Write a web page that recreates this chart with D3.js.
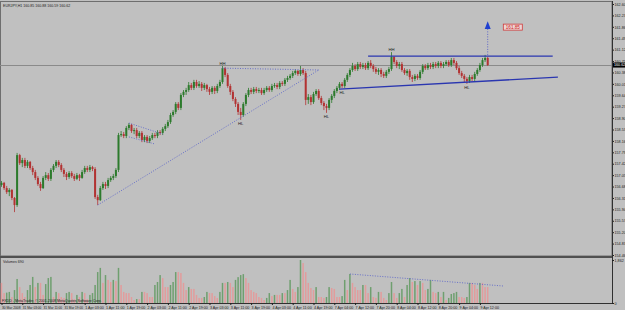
<!DOCTYPE html>
<html>
<head>
<meta charset="utf-8">
<script src="https://cdn.jsdelivr.net/npm/d3@7"></script>
<style>
  body { margin: 0; background: #c0c0c0; }
  text { font-family: "Liberation Sans", Arial, sans-serif; }
</style>
</head>
<body>
<script>
// EURJPY H1, 30 Mar - 9 Apr 2008
var opens = [
156.73,156.80,156.63,156.50,156.57,156.31,156.08,157.70,157.44,157.54,
157.35,157.48,157.28,157.15,156.96,156.76,156.63,156.96,157.05,156.93,
157.22,157.35,157.48,157.38,157.22,157.09,156.99,157.12,157.02,156.93,
157.05,156.96,157.15,157.28,157.22,157.31,157.25,156.34,156.24,156.63,
156.76,156.70,156.89,156.96,157.02,157.22,158.35,158.38,158.32,158.58,
158.68,158.48,158.51,158.32,158.42,158.19,158.29,158.16,158.25,158.35,
158.32,158.45,158.42,158.55,158.64,158.77,159.00,159.10,159.36,159.23,
159.65,159.75,159.81,159.97,159.88,160.07,159.94,160.01,159.88,159.97,
159.84,159.75,159.88,159.78,159.94,160.07,160.52,160.30,159.94,159.75,
159.52,159.36,159.10,159.00,159.36,159.65,159.81,159.75,159.84,159.78,
159.81,159.71,159.81,159.88,159.81,159.94,159.97,159.91,160.04,160.01,
160.14,160.20,160.27,160.36,160.43,160.33,160.46,160.36,159.49,159.58,
159.42,159.68,159.78,159.55,159.39,159.29,159.23,159.49,159.62,159.78,
159.88,160.01,159.94,160.14,160.30,160.46,160.59,160.49,160.65,160.56,
160.62,160.52,160.69,160.59,160.49,160.40,160.46,160.33,160.27,160.40,
160.49,160.88,160.72,160.59,160.65,160.46,160.36,160.43,160.23,160.17,
160.27,160.20,160.40,160.59,160.52,160.62,160.56,160.65,160.59,160.69,
160.59,160.65,160.72,160.62,160.78,160.69,160.52,160.36,160.27,160.17,
160.10,160.23,160.17,160.33,160.46,160.62,160.78,160.85];

var highs = [
156.86,156.83,156.70,156.63,156.60,156.34,157.77,157.74,157.61,157.61,
157.54,157.51,157.35,157.22,157.02,156.83,157.02,157.15,157.12,157.28,
157.41,157.54,157.54,157.44,157.28,157.15,157.18,157.18,157.09,157.12,
157.09,157.22,157.35,157.35,157.38,157.35,157.31,156.41,156.70,156.83,
156.83,156.96,157.02,157.09,157.28,158.42,158.48,158.45,158.64,158.74,
158.71,158.58,158.58,158.48,158.48,158.35,158.35,158.32,158.42,158.42,
158.51,158.51,158.61,158.71,158.84,159.07,159.16,159.42,159.42,159.71,
159.81,159.88,160.07,160.04,160.14,160.14,160.10,160.07,160.04,160.01,
159.91,159.94,159.94,160.01,160.14,160.59,160.56,160.36,160.01,159.81,
159.58,159.42,159.23,159.42,159.71,159.88,159.88,159.91,159.91,159.88,
159.88,159.88,159.94,159.94,160.01,160.04,160.04,160.10,160.10,160.20,
160.27,160.33,160.43,160.49,160.46,160.59,160.52,160.43,159.68,159.65,
159.75,159.84,159.84,159.62,159.45,159.36,159.55,159.68,159.84,159.94,
160.07,160.07,160.20,160.36,160.52,160.69,160.65,160.72,160.72,160.69,
160.69,160.75,160.78,160.65,160.56,160.52,160.52,160.40,160.46,160.56,
161.04,160.91,160.78,160.72,160.72,160.52,160.49,160.49,160.30,160.33,
160.33,160.46,160.65,160.65,160.69,160.69,160.72,160.72,160.75,160.75,
160.72,160.78,160.78,160.85,160.85,160.75,160.59,160.43,160.33,160.23,
160.30,160.30,160.40,160.52,160.69,160.85,160.95,160.88];

var lows = [
156.67,156.57,156.44,156.37,156.24,155.85,156.02,157.38,157.31,157.28,
157.28,157.22,157.05,156.89,156.70,156.54,156.60,156.89,156.86,156.86,
157.15,157.28,157.31,157.15,156.99,156.89,156.93,156.96,156.86,156.89,
156.86,156.93,157.09,157.15,157.15,157.18,156.28,156.08,156.21,156.57,
156.60,156.63,156.83,156.89,156.96,157.15,158.29,158.25,158.25,158.51,
158.42,158.38,158.25,158.25,158.12,158.12,158.09,158.09,158.19,158.25,
158.25,158.35,158.35,158.48,158.58,158.71,158.94,159.03,159.16,159.16,
159.58,159.65,159.75,159.81,159.81,159.88,159.88,159.78,159.81,159.75,
159.65,159.68,159.68,159.71,159.88,160.01,160.23,159.88,159.65,159.45,
159.26,159.00,158.84,158.94,159.29,159.58,159.68,159.68,159.71,159.71,
159.65,159.65,159.75,159.75,159.75,159.88,159.84,159.84,159.94,159.94,
160.07,160.14,160.20,160.30,160.27,160.27,160.30,159.32,159.36,159.32,
159.36,159.62,159.49,159.32,159.16,159.07,159.16,159.39,159.55,159.71,
159.81,159.88,159.88,160.07,160.23,160.40,160.43,160.43,160.49,160.49,
160.46,160.46,160.52,160.40,160.33,160.30,160.23,160.20,160.20,160.33,
160.43,160.65,160.52,160.49,160.40,160.30,160.27,160.14,160.07,160.10,
160.14,160.14,160.33,160.46,160.46,160.49,160.49,160.52,160.52,160.52,
160.52,160.59,160.56,160.56,160.62,160.46,160.30,160.20,160.07,160.01,
160.04,160.10,160.10,160.27,160.40,160.56,160.72,160.59];

var closes = [
156.80,156.63,156.50,156.57,156.31,156.08,157.70,157.44,157.54,157.35,
157.48,157.28,157.15,156.96,156.76,156.63,156.96,157.05,156.93,157.22,
157.35,157.48,157.38,157.22,157.09,156.99,157.12,157.02,156.93,157.05,
156.96,157.15,157.28,157.22,157.31,157.25,156.34,156.24,156.63,156.76,
156.70,156.89,156.96,157.02,157.22,158.35,158.38,158.32,158.58,158.68,
158.48,158.51,158.32,158.42,158.19,158.29,158.16,158.25,158.35,158.32,
158.45,158.42,158.55,158.64,158.77,159.00,159.10,159.36,159.23,159.65,
159.75,159.81,159.97,159.88,160.07,159.94,160.01,159.88,159.97,159.84,
159.75,159.88,159.78,159.94,160.07,160.52,160.30,159.94,159.75,159.52,
159.36,159.10,159.00,159.36,159.65,159.81,159.75,159.84,159.78,159.81,
159.71,159.81,159.88,159.81,159.94,159.97,159.91,160.04,160.01,160.14,
160.20,160.27,160.36,160.43,160.33,160.46,160.36,159.49,159.58,159.42,
159.68,159.78,159.55,159.39,159.29,159.23,159.49,159.62,159.78,159.88,
160.01,159.94,160.14,160.30,160.46,160.59,160.49,160.65,160.56,160.62,
160.52,160.69,160.59,160.49,160.40,160.46,160.33,160.27,160.40,160.49,
160.88,160.72,160.59,160.65,160.46,160.36,160.43,160.23,160.17,160.27,
160.20,160.40,160.59,160.52,160.62,160.56,160.65,160.59,160.69,160.59,
160.65,160.72,160.62,160.78,160.69,160.52,160.36,160.27,160.17,160.10,
160.23,160.17,160.33,160.46,160.62,160.78,160.85,160.62];

var volumes = [
870,430,450,480,260,560,1040,690,430,260,
560,780,1130,690,870,870,350,820,1080,1130,
260,480,430,260,220,430,480,430,170,350,
260,480,430,170,350,430,780,1340,1520,870,
1210,1000,910,1000,950,1520,780,480,430,430,
260,130,170,170,480,480,430,260,260,780,
910,1210,1080,690,690,780,910,1340,1340,1300,
870,560,690,610,610,350,220,220,260,480,
430,430,300,220,480,870,870,910,870,690,
1000,1120,1210,1250,1080,870,560,480,430,260,
220,130,220,430,300,350,350,350,430,430,
560,1000,610,480,690,1862,1730,1340,870,650,
560,690,260,260,220,260,690,650,610,260,
260,300,1000,560,1256,870,690,560,560,780,
780,430,690,260,220,480,480,220,130,430,
910,430,220,430,610,260,780,1080,910,950,
780,950,870,560,610,1000,480,430,480,260,
480,130,220,390,430,480,260,260,220,260,
870,870,780,610,870,870,690,690];

var priceTicks = [162.60,162.23,161.86,161.49,161.12,160.75,160.38,160.01,159.64,159.27,
  158.90,158.53,158.16,157.79,157.42,157.05,156.68,156.31,155.94,155.57,155.20,154.83,154.46];
var volTicks = [0, 1862];

var dateTickBars = [0,8,16,24,32,40,48,56,64,72,80,88,96,104,112,120,128,136,144,152,160,168,176,184];
var dateLabels = ["30 Mar 2008","31 Mar 03:00","31 Mar 11:00","31 Mar 19:00","1 Apr 03:00","1 Apr 11:00",
  "1 Apr 19:00","2 Apr 03:00","2 Apr 11:00","2 Apr 19:00","3 Apr 03:00","3 Apr 11:00","3 Apr 19:00",
  "4 Apr 03:00","4 Apr 11:00","4 Apr 19:00","7 Apr 04:00","7 Apr 12:00","7 Apr 20:00","8 Apr 04:00",
  "8 Apr 12:00","8 Apr 20:00","9 Apr 04:00","9 Apr 12:00"];

// drawn objects: [bar0, price0, bar1, price1]
var solidLines = [[141, 160.91, 212, 160.91], [130, 159.84, 214, 160.23]];
var dottedLines = [[37, 156.08, 122, 160.46], [85, 160.52, 122, 160.46],
                   [49, 158.74, 62, 158.38], [49, 158.29, 59, 158.06]];
var volumeLine = [134, 1256, 193, 736];
var patternBars = [85, 92, 125, 131, 150, 179];
var patternNames = ["HH", "HL", "HL", "HL", "HH", "HL"];
var patternPrices = [160.59, 158.84, 159.07, 159.84, 161.04, 160.01];
var targetBar = 187, targetFrom = 160.95, targetTo = 161.79, targetTip = 162.04;
var targetLabel = "161.85", targetLabelBar = 193;

var W = 625, H = 310;
var plotRight = 612;
var priceTop = 2, priceBottom = 256, volTop = 258, volBottom = 303;
var axisFont = 3.7;

var svg = d3.select("body").append("svg")
            .attr("width", W)
            .attr("height", H)
            .style("display", "block");

svg.append("rect").attr("width", W).attr("height", H).attr("fill", "#c0c0c0");

var x = d3.scaleLinear().domain([0, 187]).range([1.5, 487.7]);
var y = d3.scaleLinear().domain([154.46, 162.60]).range([255, 4]);
var yv = d3.scaleLinear().domain([0, 1862]).range([volBottom, 260]);

var upCol = "#2c7a2c", downCol = "#b23232";
var lineBlue = "#2a36b0", dotBlue = "#5e66c8";

// frames
svg.append("rect").attr("x", 0.5).attr("y", priceTop - 0.5)
   .attr("width", plotRight - 0.5).attr("height", priceBottom - priceTop + 0.5)
   .attr("fill", "none").attr("stroke", "#6e6e6e");
svg.append("line").attr("x1", 0).attr("x2", plotRight).attr("y1", 257).attr("y2", 257)
   .attr("stroke", "#505050").attr("stroke-width", 2);
svg.append("line").attr("x1", 0.5).attr("x2", 0.5).attr("y1", volTop).attr("y2", volBottom)
   .attr("stroke", "#6e6e6e");

// bid line
var bidY = Math.round(y(closes[closes.length - 1])) + 0.5;
svg.append("line").attr("x1", 0).attr("x2", plotRight).attr("y1", bidY).attr("y2", bidY)
   .attr("stroke", "#8a8a8a");

// header
svg.append("text").attr("x", 3).attr("y", 7).attr("font-size", 3.6).attr("fill", "#202020")
   .text("EURJPY,H1  " + opens[187].toFixed(2) + " " + highs[187].toFixed(2) + " " +
         lows[187].toFixed(2) + " " + closes[187].toFixed(2));

// candles
var bars = d3.range(closes.length);
var candle = svg.append("g");
candle.selectAll("line").data(bars).enter().append("line")
      .attr("x1", function(i) { return x(i); })
      .attr("x2", function(i) { return x(i); })
      .attr("y1", function(i) { return y(highs[i]); })
      .attr("y2", function(i) { return y(lows[i]); })
      .attr("stroke", function(i) { return closes[i] >= opens[i] ? upCol : downCol; })
      .attr("stroke-width", 0.8);
candle.selectAll("rect").data(bars).enter().append("rect")
      .attr("x", function(i) { return x(i) - 1; })
      .attr("width", 2)
      .attr("y", function(i) { return y(Math.max(opens[i], closes[i])); })
      .attr("height", function(i) { return Math.max(1, Math.abs(y(opens[i]) - y(closes[i]))); })
      .attr("fill", function(i) { return closes[i] >= opens[i] ? upCol : downCol; });

// trend lines
svg.selectAll(".solid").data(solidLines).enter().append("line")
   .attr("x1", function(d) { return x(d[0]); }).attr("y1", function(d) { return y(d[1]); })
   .attr("x2", function(d) { return x(d[2]); }).attr("y2", function(d) { return y(d[3]); })
   .attr("stroke", lineBlue).attr("stroke-width", 1.4);
svg.selectAll(".dotted").data(dottedLines).enter().append("line")
   .attr("x1", function(d) { return x(d[0]); }).attr("y1", function(d) { return y(d[1]); })
   .attr("x2", function(d) { return x(d[2]); }).attr("y2", function(d) { return y(d[3]); })
   .attr("stroke", dotBlue).attr("stroke-width", 0.9).attr("stroke-dasharray", "1,1.5");

// pattern labels
svg.selectAll(".pat").data(patternBars).enter().append("text")
   .attr("x", function(b) { return x(b); })
   .attr("y", function(b, i) { return patternNames[i] == "HH" ? y(patternPrices[i]) - 1 : y(patternPrices[i]) + 5; })
   .attr("text-anchor", "middle").attr("font-size", 4.2).attr("fill", "#202020")
   .text(function(b, i) { return patternNames[i]; });

// target arrow
var tx = x(targetBar);
svg.append("line").attr("x1", tx).attr("x2", tx).attr("y1", y(targetFrom)).attr("y2", y(targetTo))
   .attr("stroke", dotBlue).attr("stroke-dasharray", "1,1.5");
svg.append("path")
   .attr("d", "M" + tx + "," + y(targetTip) + "L" + (tx + 3) + "," + y(targetTo) + "L" + (tx - 3) + "," + y(targetTo) + "Z")
   .attr("fill", "#2040d0");
var tl = svg.append("g").attr("transform", "translate(" + x(targetLabelBar) + "," + y(parseFloat(targetLabel)) + ")");
tl.append("rect").attr("x", 0).attr("y", -3).attr("width", 19).attr("height", 6)
  .attr("fill", "#ecd4d4").attr("stroke", "#d03a3a").attr("stroke-width", 0.8);
tl.append("text").attr("x", 9.5).attr("y", 1.6).attr("text-anchor", "middle")
  .attr("font-size", 4.6).attr("fill", "#d02020").text(targetLabel);

// price axis
var yAxis = d3.axisRight(y).tickValues(priceTicks).tickFormat(d3.format(".2f")).tickSize(2);
var ga = svg.append("g").attr("transform", "translate(" + plotRight + ",0)").call(yAxis);
ga.select(".domain").remove();
ga.selectAll("text").attr("font-size", axisFont).attr("fill", "#202020").attr("x", 2.5);
ga.selectAll("line").attr("stroke", "#202020");
svg.append("line").attr("x1", plotRight + 0.5).attr("x2", plotRight + 0.5).attr("y1", priceTop - 1).attr("y2", volBottom)
   .attr("stroke", "#303030");

// current price box
var cp = y(closes[187]);
svg.append("rect").attr("x", plotRight + 1).attr("y", cp - 2.5).attr("width", 12).attr("height", 5).attr("fill", "#000");
svg.append("text").attr("x", plotRight + 2).attr("y", cp + 1.3).attr("font-size", axisFont).attr("fill", "#fff")
   .text(closes[187].toFixed(2));

// volumes
svg.append("text").attr("x", 3).attr("y", 263).attr("font-size", 3.6).attr("fill", "#202020")
   .text("Volumes " + volumes[volumes.length - 1]);
svg.append("g").selectAll("rect").data(bars).enter().append("rect")
   .attr("x", function(i) { return x(i) - 0.75; })
   .attr("width", 1.5)
   .attr("y", function(i) { return yv(volumes[i]); })
   .attr("height", function(i) { return yv(0) - yv(volumes[i]); })
   .attr("fill", function(i) { return i > 0 && volumes[i] > volumes[i - 1] ? "#6f9f6f" : "#e29c9c"; });
svg.append("line")
   .attr("x1", x(volumeLine[0])).attr("y1", yv(volumeLine[1]))
   .attr("x2", x(volumeLine[2])).attr("y2", yv(volumeLine[3]))
   .attr("stroke", dotBlue).attr("stroke-width", 0.9).attr("stroke-dasharray", "1,1.5");

var vAxis = d3.axisRight(yv).tickValues(volTicks).tickSize(2);
var gv = svg.append("g").attr("transform", "translate(" + plotRight + ",0)").call(vAxis);
gv.select(".domain").remove();
gv.selectAll("text").attr("font-size", axisFont).attr("fill", "#202020").attr("x", 2.5);
gv.selectAll("line").attr("stroke", "#202020");

svg.append("text").attr("x", 2).attr("y", 301.5).attr("font-size", 3.6).attr("fill", "#202020")
   .text("FXDD - MetaTrader, \u00a9 2001-2008 MetaQuotes Software Corp.");

// time axis
svg.append("line").attr("x1", 0).attr("x2", plotRight).attr("y1", volBottom + 0.5).attr("y2", volBottom + 0.5)
   .attr("stroke", "#303030");
var xAxis = d3.axisBottom(x).tickValues(dateTickBars)
              .tickFormat(function(d, i) { return dateLabels[i]; }).tickSize(2);
var gx = svg.append("g").attr("transform", "translate(0," + volBottom + ")").call(xAxis);
gx.select(".domain").remove();
gx.selectAll("text").attr("font-size", 3.8).attr("fill", "#202020")
  .attr("text-anchor", "start").attr("dy", "0").attr("y", 5.5)
  .attr("textLength", 18.5).attr("lengthAdjust", "spacingAndGlyphs");
gx.selectAll("line").attr("stroke", "#202020");
</script>
</body>
</html>
